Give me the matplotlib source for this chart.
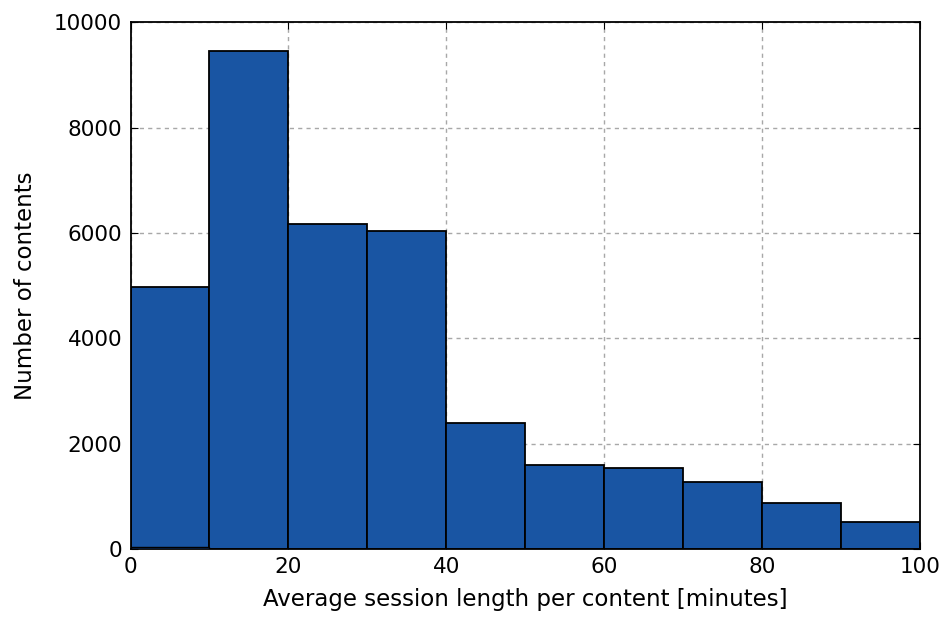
import matplotlib.pyplot as plt
import numpy as np

# histogram of average session length, 10-minute bins
bin_edges = [0, 10, 20, 30, 40, 50, 60, 70, 80, 90, 100]
counts = [4970, 9450, 6170, 6030, 2400, 1590, 1540, 1270, 870, 510]
# small second series sitting in the first bin
short_edges = [0, 10]
short_counts = [40]

BAR_COLOR = '#1955a3'

fig = plt.figure(figsize=(9.39, 6.19), dpi=100)
ax = fig.add_axes([0.139, 0.113, 0.841, 0.851])

ax.hist(bin_edges[:-1], bins=bin_edges, weights=counts,
        color=BAR_COLOR, edgecolor='black', linewidth=1.3, zorder=2)
ax.hist(short_edges[:-1], bins=short_edges, weights=short_counts,
        color='#0d2a55', edgecolor='black', linewidth=1.0, zorder=3)

ax.set_xlim(0, 100)
ax.set_ylim(0, 10000)
ax.set_xticks(np.arange(0, 101, 20))
ax.set_yticks(np.arange(0, 10001, 2000))

ax.grid(True, color='#a8a8a8', linestyle=(0, (3, 3)), linewidth=1.0, zorder=0)
ax.set_axisbelow(True)
ax.tick_params(direction='in', top=True, right=True, length=5,
               labelsize=15.5, pad=6)
for s in ax.spines.values():
    s.set_linewidth(1.3)

ax.set_xlabel('Average session length per content [minutes]', fontsize=16.5, labelpad=8)
ax.set_ylabel('Number of contents', fontsize=16.5, labelpad=12)

fig.savefig('out.png', dpi=100, facecolor='white')
